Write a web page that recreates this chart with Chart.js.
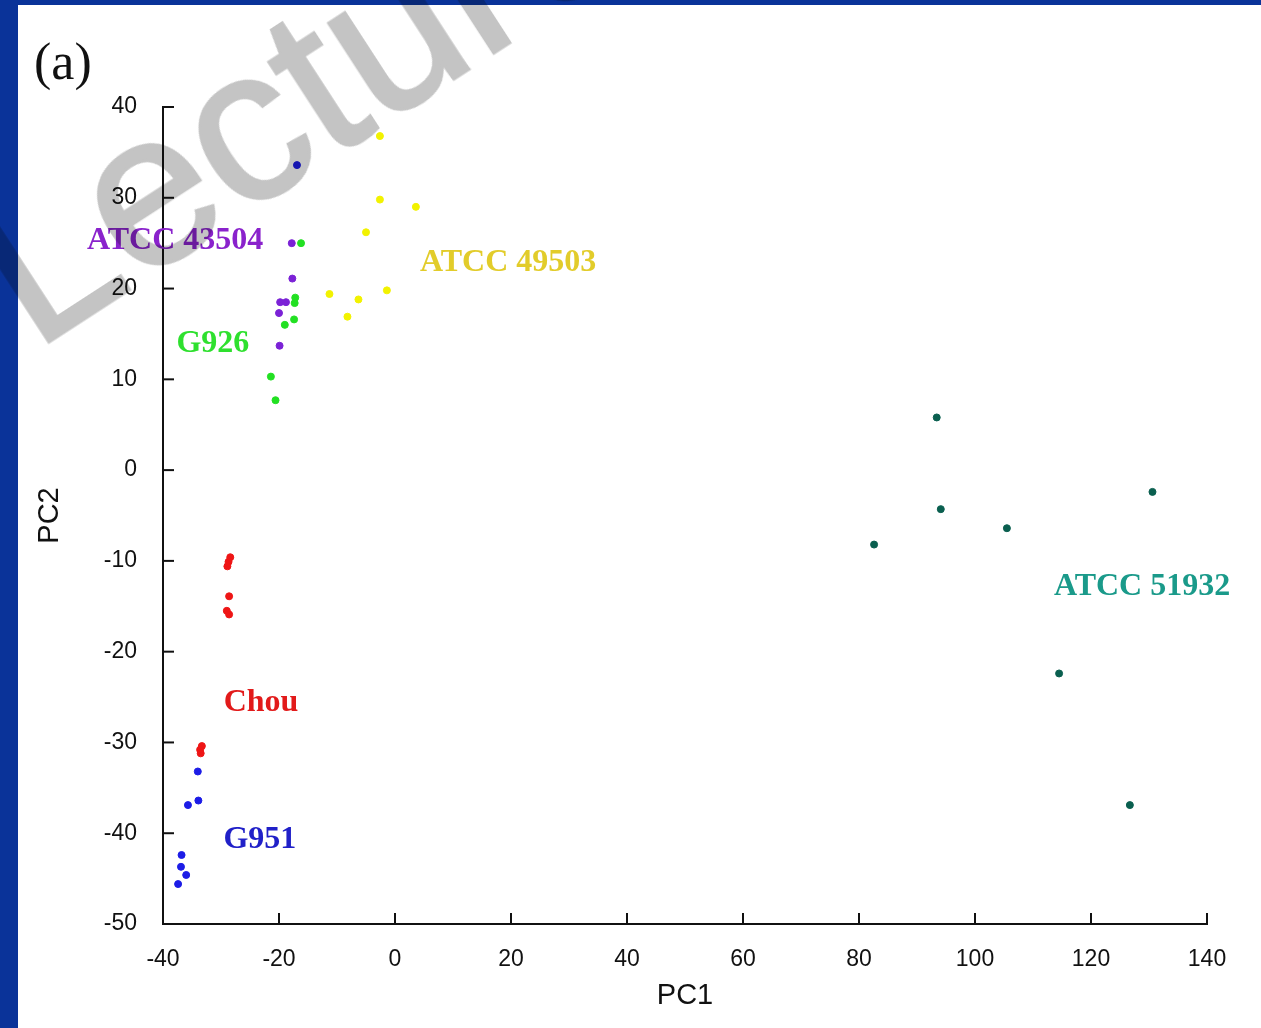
<!DOCTYPE html>
<html>
<head>
<meta charset="utf-8">
<script src="https://cdn.jsdelivr.net/npm/chart.js@4/dist/chart.umd.min.js"></script>
<style>
  html, body { margin: 0; padding: 0; }
  body { width: 1261px; height: 1028px; background: #0a3399; position: relative; overflow: hidden; }
  #paper { position: absolute; left: 18px; top: 5px; right: 0; bottom: 0; background: #fff; }
  #mark { position: absolute; left: -75px; top: 184px; font-family: 'Liberation Sans', Arial, sans-serif;
          font-size: 218px; line-height: normal; color: #c4c4c4; -webkit-text-stroke: 3px #c4c4c4;
          transform: rotate(-33deg); transform-origin: 0 0; white-space: nowrap; mix-blend-mode: multiply; }
  #tag { position: absolute; left: 34px; top: 32px; font-family: 'Liberation Serif', 'Times New Roman', serif; font-size: 52px; color: #111; }
  #wrap { position: absolute; left: 0; top: 0; width: 1261px; height: 1028px; }
</style>
</head>
<body>
<div id="paper"></div>
<div id="tag">(a)</div>
<div id="wrap"><canvas id="pca" width="1261" height="1028"></canvas></div>
<div id="mark">Lecture</div>
<script>
// PCA scores, [PC1, PC2]
const atcc43504 = [[-17.8, 25.0], [-17.7, 21.1], [-19.8, 18.5], [-18.8, 18.5], [-20.0, 17.3], [-19.9, 13.7]];
const g926 = [[-16.2, 25.0], [-17.2, 19.0], [-17.3, 18.4], [-17.4, 16.6], [-19.0, 16.0], [-21.4, 10.3], [-20.6, 7.7]];
const atcc49503 = [[-2.6, 36.8], [-2.6, 29.8], [3.6, 29.0], [-5.0, 26.2], [-11.3, 19.4], [-6.3, 18.8], [-1.4, 19.8], [-8.2, 16.9]];
const chou = [[-28.7, -10.1], [-28.4, -9.6], [-28.9, -10.6], [-28.6, -13.9], [-29.0, -15.5], [-28.6, -15.9],
              [-33.3, -30.4], [-33.6, -30.8], [-33.5, -31.2]];
const g951 = [[-16.9, 33.6], [-34.0, -33.2], [-33.9, -36.4], [-35.7, -36.9], [-36.8, -42.4], [-36.9, -43.7],
              [-36.0, -44.6], [-37.4, -45.6]];
const atcc51932 = [[93.4, 5.8], [130.6, -2.4], [94.1, -4.3], [105.5, -6.4], [82.6, -8.2], [114.5, -22.4], [126.7, -36.9]];

const groupNames = ['ATCC 43504', 'G926', 'ATCC 49503', 'Chou', 'G951', 'ATCC 51932'];
const groupData = [atcc43504, g926, atcc49503, chou, g951, atcc51932];
const pointColors = ['#7b22d6', '#22e022', '#f2f200', '#ee1515', '#1c1ce6', '#0a5f4f'];
const labelColors = ['#8a22cc', '#2ee02e', '#e2cc2a', '#e21a1a', '#2020c8', '#1a9a8a'];
// where each group name sits, in data units
const labelPos = [[-37.9, 25.3], [-31.4, 13.9], [19.5, 22.8], [-23.1, -25.6], [-23.3, -40.7], [128.8, -12.9]];

const xTicks = [-40, -20, 0, 20, 40, 60, 80, 100, 120, 140];
const yTicks = [-50, -40, -30, -20, -10, 0, 10, 20, 30, 40];

const tickFont = { family: "'Liberation Sans', Arial, sans-serif", size: 23 };

// ticks point inward, then the group names
const decor = {
  id: 'decor',
  afterDraw(chart) {
    const c = chart.ctx, xs = chart.scales.x, ys = chart.scales.y;
    const a = chart.chartArea;
    c.save();
    c.strokeStyle = '#111';
    c.lineWidth = 2;
    xTicks.forEach(v => {
      const px = xs.getPixelForValue(v);
      c.beginPath(); c.moveTo(px, a.bottom); c.lineTo(px, a.bottom - 11); c.stroke();
    });
    yTicks.forEach(v => {
      const py = ys.getPixelForValue(v);
      c.beginPath(); c.moveTo(a.left, py); c.lineTo(a.left + 11, py); c.stroke();
    });
    c.font = "bold 32px 'Liberation Serif', 'Times New Roman', serif";
    c.textAlign = 'center';
    c.textBaseline = 'middle';
    groupNames.forEach((n, i) => {
      c.fillStyle = labelColors[i];
      c.fillText(n, xs.getPixelForValue(labelPos[i][0]), ys.getPixelForValue(labelPos[i][1]));
    });
    c.restore();
  }
};

new Chart(document.getElementById('pca'), {
  type: 'scatter',
  data: {
    datasets: groupData.map((g, i) => ({
      label: groupNames[i],
      data: g.map(p => ({ x: p[0], y: p[1] })),
      backgroundColor: pointColors[i],
      borderColor: pointColors[i],
      pointRadius: 3.5,
      pointHoverRadius: 3.5
    }))
  },
  options: {
    responsive: false,
    animation: false,
    layout: { padding: { top: 107, right: 54, left: 0, bottom: 0 } },
    plugins: { legend: { display: false }, tooltip: { enabled: false } },
    scales: {
      x: {
        type: 'linear', min: -40, max: 140,
        afterFit: s => { s.height = 104; },
        afterBuildTicks: s => { s.ticks = xTicks.map(v => ({ value: v })); },
        border: { color: '#111', width: 2 },
        grid: { display: false },
        ticks: { color: '#111', font: tickFont, padding: 14, maxRotation: 0 },
        title: { display: true, text: 'PC1', color: '#111', font: { family: "'Liberation Sans', Arial, sans-serif", size: 29 }, padding: { top: 0, bottom: 15 } }
      },
      y: {
        type: 'linear', min: -50, max: 40,
        afterFit: s => { s.width = 163; },
        afterBuildTicks: s => { s.ticks = yTicks.map(v => ({ value: v })); },
        border: { color: '#111', width: 2 },
        grid: { display: false },
        ticks: { color: '#111', font: tickFont, padding: 18 },
        title: { display: true, text: 'PC2', color: '#111', font: { family: "'Liberation Sans', Arial, sans-serif", size: 29 }, padding: { top: 33, bottom: 0 } }
      }
    }
  },
  plugins: [decor]
});
</script>
</body>
</html>
